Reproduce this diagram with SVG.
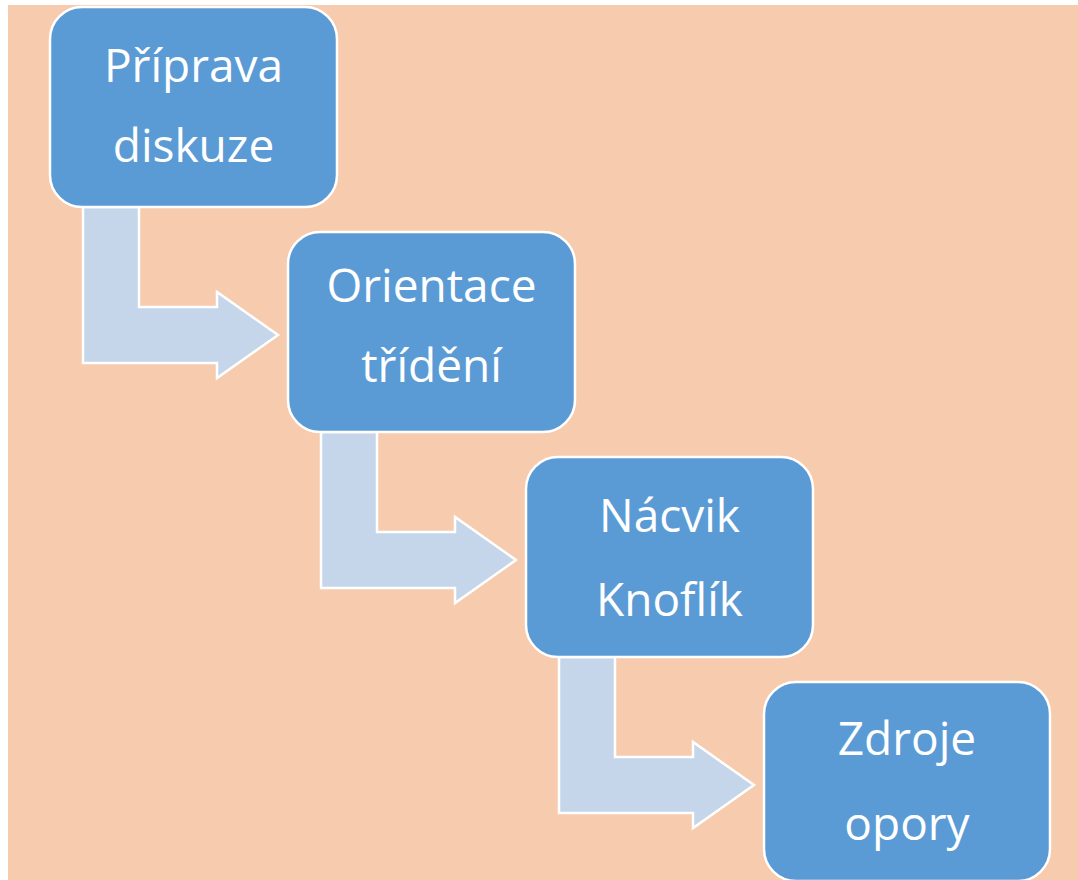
<svg xmlns="http://www.w3.org/2000/svg" width="1078" height="880" viewBox="0 0 1078 880">
<style>
.box{fill:#5B9BD5;stroke:#FFFFFF;stroke-width:2.5}
.arr{fill:#C5D6EB;stroke:#FFFFFF;stroke-width:2.5;stroke-linejoin:miter}
.t{font-family:"Open Sans","Noto Sans","Liberation Sans",sans-serif;font-size:46px;fill:#FFFFFF;text-anchor:middle}
</style>
<rect x="0" y="0" width="1078" height="880" fill="#FFFFFF"/>
<rect x="8" y="5" width="1070" height="875" fill="#F7CBAD"/>
<g id="connectors">
<polygon class="arr" points="83,207 139,207 139,307 217,307 217,292 278,335 217,378 217,363 83,363"/>
<polygon class="arr" points="321,432 377,432 377,532 455,532 455,517 516,560 455,603 455,588 321,588"/>
<polygon class="arr" points="559,657 615,657 615,757 693,757 693,742 754,785 693,828 693,813 559,813"/>
</g>
<g id="node1">
<rect class="box" x="50" y="7" width="287" height="200" rx="32"/>
<text class="t" x="193.5" y="82">Příprava</text>
<text class="t" x="193.5" y="162">diskuze</text>
</g>
<g id="node2">
<rect class="box" x="288" y="232" width="287" height="200" rx="32"/>
<text class="t" x="431.5" y="302">Orientace</text>
<text class="t" x="431.5" y="382">třídění</text>
</g>
<g id="node3">
<rect class="box" x="526" y="457" width="287" height="200" rx="32"/>
<text class="t" x="669.5" y="532">Nácvik</text>
<text class="t" x="669.5" y="616">Knoflík</text>
</g>
<g id="node4">
<rect class="box" x="764" y="682" width="286" height="199" rx="32"/>
<text class="t" x="907" y="755">Zdroje</text>
<text class="t" x="907" y="840">opory</text>
</g>
</svg>
